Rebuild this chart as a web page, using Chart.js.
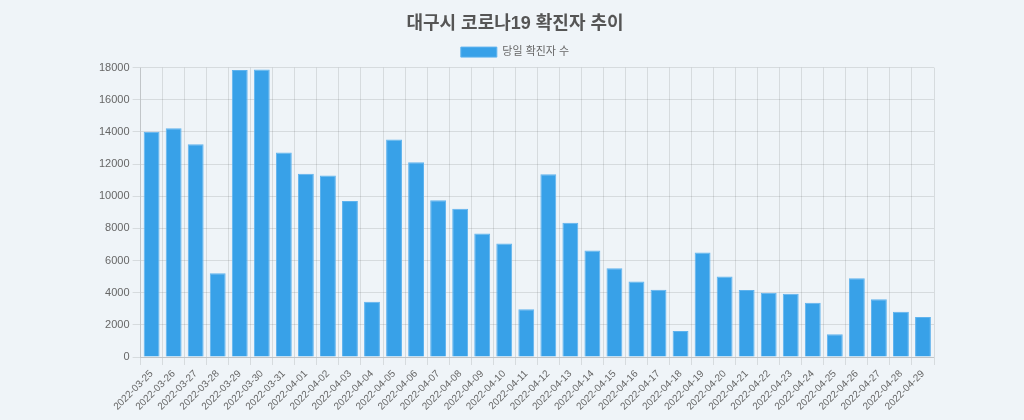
<!DOCTYPE html>
<html>
<head>
<meta charset="utf-8">
<script src="https://cdn.jsdelivr.net/npm/chart.js@4"></script>
<style>
    html, body { margin: 0; padding: 0; background: #eff4f8; }
    #wrap { width: 1024px; height: 420px; }
</style>
</head>
<body>
<div id="wrap"><canvas id="covidChart"></canvas></div>
<script>
var labels = [
    '2022-03-25', '2022-03-26', '2022-03-27', '2022-03-28', '2022-03-29', '2022-03-30',
    '2022-03-31', '2022-04-01', '2022-04-02', '2022-04-03', '2022-04-04', '2022-04-05',
    '2022-04-06', '2022-04-07', '2022-04-08', '2022-04-09', '2022-04-10', '2022-04-11',
    '2022-04-12', '2022-04-13', '2022-04-14', '2022-04-15', '2022-04-16', '2022-04-17',
    '2022-04-18', '2022-04-19', '2022-04-20', '2022-04-21', '2022-04-22', '2022-04-23',
    '2022-04-24', '2022-04-25', '2022-04-26', '2022-04-27', '2022-04-28', '2022-04-29'
];
var dailyCases = [
    14010, 14220, 13240, 5210, 17850, 17880,
    12720, 11400, 11290, 9710, 3440, 13530,
    12120, 9750, 9220, 7680, 7060, 2970,
    11370, 8350, 6620, 5520, 4690, 4190,
    1620, 6500, 5000, 4170, 4000, 3940,
    3380, 1410, 4900, 3590, 2820, 2490
];
var seriesName = '당일 확진자 수';
var chartTitle = '대구시 코로나19 확진자 추이';

var fontFamily = "'Helvetica Neue', Helvetica, Arial, 'Noto Sans CJK KR', sans-serif";
Chart.defaults.font.family = fontFamily;
Chart.defaults.font.size = 11;
Chart.defaults.color = '#666';

var ctx = document.getElementById('covidChart').getContext('2d');
var covidChart = new Chart(ctx, {
    type: 'bar',
    data: {
        labels: labels,
        datasets: [{
            label: seriesName,
            data: dailyCases,
            backgroundColor: '#38a1e8',
            borderColor: '#5fb3ee',
            borderWidth: 1
        }]
    },
    options: {
        responsive: true,
        maintainAspectRatio: false,
        animation: false,
        layout: {
            padding: { left: 96, right: 90, top: 0, bottom: 0 }
        },
        plugins: {
            title: {
                display: true,
                text: chartTitle,
                color: '#555',
                font: { size: 18, weight: 'bold' },
                padding: { top: 13, bottom: 5 }
            },
            legend: {
                labels: { boxWidth: 36, boxHeight: 10, color: '#666', padding: 7 }
            },
            tooltip: { enabled: false }
        },
        scales: {
            x: {
                grid: { color: 'rgba(0,0,0,0.1)' },
                ticks: {
                    autoSkip: false,
                    minRotation: 45,
                    maxRotation: 45,
                    color: '#666',
                    font: { size: 10 }
                },
                afterFit: function (scale) {
                    scale.height = 63; // leaves the plot bottom where the reference has it
                }
            },
            y: {
                min: 0,
                max: 18000,
                grid: { color: 'rgba(0,0,0,0.1)' },
                ticks: {
                    stepSize: 2000,
                    color: '#666',
                    callback: function (value) { return String(value); }
                }
            }
        }
    }
});
</script>
</body>
</html>
